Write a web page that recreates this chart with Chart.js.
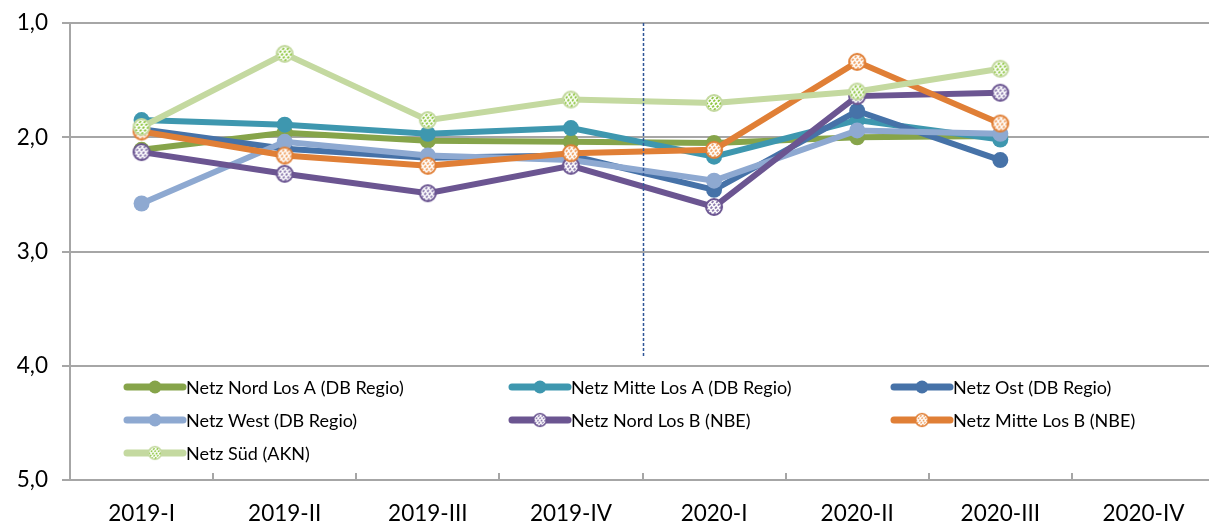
<!DOCTYPE html>
<html>
<head>
<meta charset="utf-8">
<script src="https://cdn.jsdelivr.net/npm/chart.js@4/dist/chart.umd.min.js"></script>
<style>
  html, body { margin: 0; padding: 0; background: #fff; overflow: hidden; }
  #wrap { width: 1223px; height: 525px; }
</style>
</head>
<body>
<div id="wrap"><canvas id="chart" width="1223" height="525"></canvas></div>
<script>
// Noten je Netz und Quartal (Achse umgekehrt: 1,0 oben, 5,0 unten)
const quartale = ["2019-I", "2019-II", "2019-III", "2019-IV", "2020-I", "2020-II", "2020-III", "2020-IV"];

const nordA  = [2.11, 1.96, 2.03, 2.04, 2.05, 2.00, 1.99, null];
const mitteA = [1.85, 1.89, 1.97, 1.92, 2.17, 1.85, 2.02, null];
const ost    = [1.93, 2.10, 2.18, 2.16, 2.46, 1.77, 2.20, null];
const west   = [2.58, 2.04, 2.16, 2.20, 2.38, 1.94, 1.97, null];
const nordB  = [2.13, 2.32, 2.49, 2.25, 2.61, 1.64, 1.61, null];
const mitteB = [1.95, 2.16, 2.25, 2.14, 2.11, 1.34, 1.88, null];
const sued   = [1.91, 1.27, 1.85, 1.67, 1.70, 1.60, 1.40, null];

const FONT = "Lato, 'Open Sans', sans-serif";
const GRID = "#A6A6A6";

// kleiner Kreis mit weißer Füllung und schrägen Streifen (wie Excel-Muster)
function hatched(color, stripe) {
  const r = 8, size = 2 * r + 4;
  const c = document.createElement("canvas");
  c.width = size; c.height = size;
  const g = c.getContext("2d");
  const m = size / 2;
  g.beginPath();
  g.arc(m, m, r, 0, Math.PI * 2);
  g.fillStyle = "#fff";
  g.fill();
  g.save();
  g.clip();
  g.strokeStyle = stripe;
  g.lineWidth = 1.8;
  g.setLineDash([2.5, 1.5]);
  for (let k = -size; k < size * 2; k += 4.5) {
    g.beginPath();
    g.moveTo(k, size);
    g.lineTo(k + size, 0);
    g.stroke();
  }
  g.restore();
  g.beginPath();
  g.arc(m, m, r, 0, Math.PI * 2);
  g.strokeStyle = color;
  g.lineWidth = 2;
  g.stroke();
  return c;
}

function serie(label, data, color, style) {
  return {
    label,
    data,
    borderColor: color,
    backgroundColor: color,
    borderWidth: 6,
    tension: 0,
    pointStyle: style || "circle",
    pointRadius: 8,
    pointHoverRadius: 8,
    pointBorderWidth: 0,
    pointBackgroundColor: color,
    spanGaps: false,
    fill: false,
  };
}

const datasets = [
  serie("Netz Nord Los A (DB Regio)", nordA, "#86A44A"),
  serie("Netz Mitte Los A (DB Regio)", mitteA, "#3E97AF"),
  serie("Netz Ost (DB Regio)", ost, "#4672A8"),
  serie("Netz West (DB Regio)", west, "#8EA9D1"),
  serie("Netz Nord Los B (NBE)", nordB, "#6B5591", hatched("#6B5591", "#8a78ad")),
  serie("Netz Mitte Los B (NBE)", mitteB, "#E07F36", hatched("#E07F36", "#f0a060")),
  serie("Netz Süd (AKN)", sued, "#C4D9A0", hatched("#C4D9A0", "#8DC63F")),
];
// wie in Excel: spätere Reihe liegt oben
datasets.forEach((d, i) => { d.order = datasets.length - i; });

// gestrichelte Trennlinie zwischen 2019 und 2020
const jahresLinie = {
  id: "jahresLinie",
  afterDatasetsDraw(chart) {
    const { ctx, chartArea, scales } = chart;
    const x = (scales.x.getPixelForValue(3) + scales.x.getPixelForValue(4)) / 2;
    ctx.save();
    ctx.strokeStyle = "#2F5597";
    ctx.lineWidth = 1.5;
    ctx.setLineDash([3, 2]);
    ctx.beginPath();
    ctx.moveTo(Math.round(x) + 0.5, chartArea.top);
    ctx.lineTo(Math.round(x) + 0.5, scales.y.getPixelForValue(3.93));
    ctx.stroke();
    ctx.restore();
  },
};

// Teilstriche der x-Achse nach innen, an den Kategoriegrenzen
const xStriche = {
  id: "xStriche",
  afterDraw(chart) {
    const { ctx, chartArea, scales } = chart;
    ctx.save();
    ctx.strokeStyle = GRID;
    ctx.lineWidth = 2;
    for (let i = 1; i < quartale.length; i++) {
      const x = (scales.x.getPixelForValue(i - 1) + scales.x.getPixelForValue(i)) / 2;
      ctx.beginPath();
      ctx.moveTo(Math.round(x), chartArea.bottom);
      ctx.lineTo(Math.round(x), chartArea.bottom - 7);
      ctx.stroke();
    }
    ctx.restore();
  },
};

// Legende im Diagrammbereich, drei Spalten
const legende = {
  id: "legende",
  afterDraw(chart) {
    const { ctx } = chart;
    const cols = [127, 512, 894];
    const rows = [387, 420, 453];
    ctx.save();
    ctx.font = "18px " + FONT;
    ctx.textBaseline = "middle";
    chart.data.datasets.forEach((d, i) => {
      const x = cols[i % 3], y = rows[Math.floor(i / 3)];
      ctx.strokeStyle = d.borderColor;
      ctx.lineWidth = 7;
      ctx.lineCap = "round";
      ctx.beginPath();
      ctx.moveTo(x, y);
      ctx.lineTo(x + 56, y);
      ctx.stroke();
      if (d.pointStyle instanceof HTMLCanvasElement) {
        const img = d.pointStyle, s = img.width * 0.8;
        ctx.drawImage(img, x + 28 - s / 2, y - s / 2, s, s);
      } else {
        ctx.fillStyle = d.borderColor;
        ctx.beginPath();
        ctx.arc(x + 28, y, 6.5, 0, Math.PI * 2);
        ctx.fill();
      }
      ctx.fillStyle = "#000";
      ctx.fillText(d.label, x + 59, y + 1);
    });
    ctx.restore();
  },
};

new Chart(document.getElementById("chart"), {
  type: "line",
  data: { labels: quartale, datasets },
  plugins: [jahresLinie, xStriche, legende],
  options: {
    responsive: false,
    animation: false,
    devicePixelRatio: 1,
    layout: { padding: { top: 23, right: 0, left: 0, bottom: 0 } },
    plugins: {
      legend: { display: false },
      tooltip: { enabled: false },
    },
    scales: {
      x: {
        offset: true,
        grid: { display: false },
        border: { display: true, color: GRID, width: 2 },
        ticks: { color: "#000", font: { family: FONT, size: 22.5 }, padding: 12, maxRotation: 0, autoSkip: false },
        afterFit: (s) => { s.height = 45; },
      },
      y: {
        reverse: true,
        min: 1,
        max: 5,
        grid: { color: GRID, lineWidth: 2, tickLength: 8, drawTicks: true },
        border: { display: true, color: GRID, width: 2 },
        ticks: {
          stepSize: 1,
          color: "#000",
          font: { family: FONT, size: 22.5 },
          padding: 14,
          callback: (v) => v.toFixed(1).replace(".", ","),
        },
        afterFit: (s) => { s.width = 70; s.paddingTop = 0; s.paddingBottom = 0; },
      },
    },
  },
});
</script>
</body>
</html>
